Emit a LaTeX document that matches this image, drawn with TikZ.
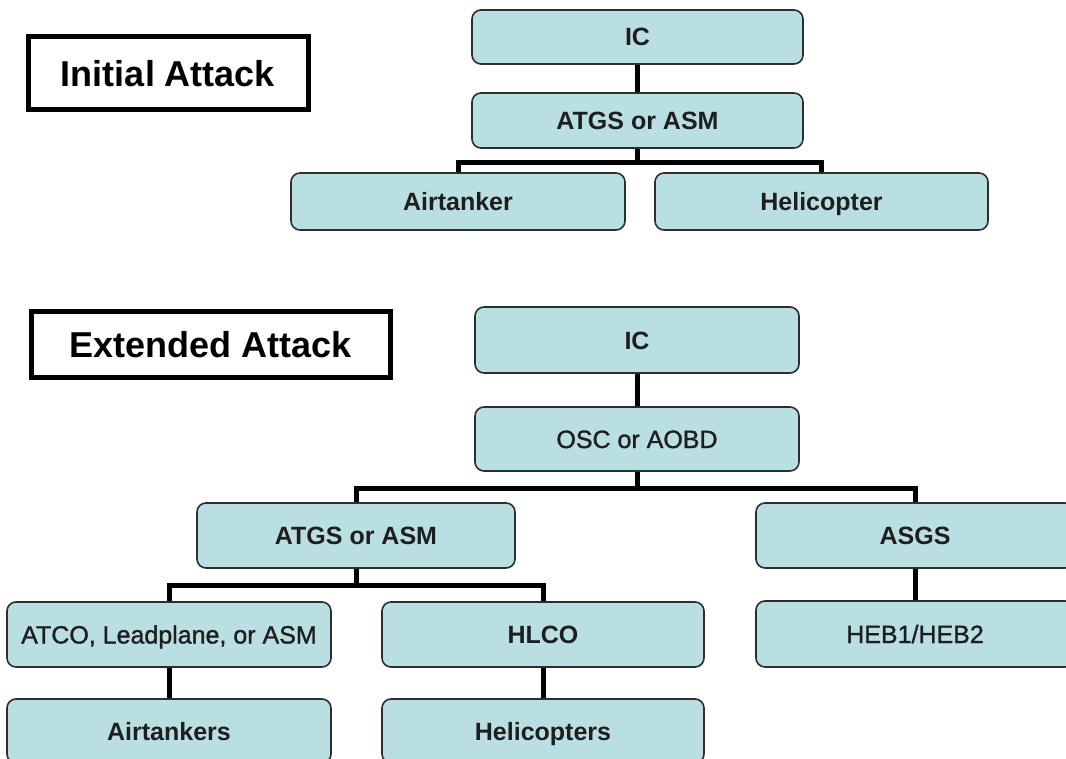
\documentclass[tikz,border=0pt]{standalone}
\usepackage{fontspec}
\setmainfont{Liberation Sans}
\newfontfamily\medfont[FakeBold=1.2]{Liberation Sans}
\definecolor{boxfill}{RGB}{186,223,227}
\definecolor{boxline}{RGB}{45,45,45}
\definecolor{textcol}{RGB}{30,30,30}
\tikzset{
  box/.style={draw=boxline, fill=boxfill, rounded corners=9pt, line width=1.6pt,
    inner sep=0pt, text=textcol, text height=18pt, text depth=0pt,
    font=\fontsize{25}{30}\selectfont\bfseries},
  boxr/.style={box, font=\fontsize{25}{30}\medfont},
  titlebox/.style={draw=black, line width=5pt, inner sep=0pt, text=black,
    text height=26pt, text depth=0pt, font=\fontsize{36}{42}\selectfont\bfseries},
  link/.style={line width=5pt, draw=black}
}
\newcommand{\bx}[7]{% style, name, x1, y1, x2, y2, text
  \node[#1, minimum width={(#5-#3)*1pt}, minimum height={(#6-#4)*1pt}]
    (#2) at ({(#3+#5)/2},{(#4+#6)/2}) {#7};}
\begin{document}
\begin{tikzpicture}[x=1pt,y=-1pt]
\useasboundingbox (0,0) rectangle (1066,759);
\clip (0,0) rectangle (1066,759);
% Initial attack
\bx{titlebox}{ia}{28}{37}{308}{110}{Initial Attack}
\bx{box}{ic1}{472}{10}{803}{64}{IC}
\bx{box}{atgs1}{472}{93}{803}{148}{ATGS or ASM}
\bx{box}{air1}{291}{173}{625}{230}{Airtanker}
\bx{box}{heli1}{655}{173}{988}{230}{Helicopter}
\coordinate (b1) at (638,163);
\draw[link] (ic1) -- (atgs1);
\draw[link] (atgs1.south) -- (atgs1.south |- b1) -| (air1.north);
\draw[link] (atgs1.south |- b1) -| (heli1.north);
% Extended attack
\bx{titlebox}{ea}{31}{312}{390}{378}{Extended Attack}
\bx{box}{ic2}{475}{307}{799}{373}{IC}
\bx{boxr}{osc}{475}{407}{799}{471}{OSC or AOBD}
\bx{box}{atgs2}{197}{503}{515}{568}{ATGS or ASM}
\bx{box}{asgs}{756}{503}{1074}{568}{ASGS}
\bx{boxr}{atco}{7}{602}{331}{667}{ATCO, Leadplane, or ASM}
\bx{box}{hlco}{382}{602}{704}{667}{HLCO}
\bx{boxr}{heb}{756}{601}{1074}{667}{HEB1/HEB2}
\bx{box}{air2}{7}{699}{331}{763}{Airtankers}
\bx{box}{heli2}{382}{699}{704}{763}{Helicopters}
\coordinate (b2) at (637,488);
\coordinate (b3) at (356,585);
\draw[link] (ic2) -- (osc);
\draw[link] (osc.south) -- (osc.south |- b2) -| (atgs2.north);
\draw[link] (osc.south |- b2) -| (asgs.north);
\draw[link] (atgs2.south) -- (atgs2.south |- b3) -| (atco.north);
\draw[link] (atgs2.south |- b3) -| (hlco.north);
\draw[link] (asgs.south) -- (heb.north);
\draw[link] (atco.south) -- (atco.south |- air2.north);
\draw[link] (hlco.south) -- (hlco.south |- heli2.north);
\end{tikzpicture}
\end{document}
